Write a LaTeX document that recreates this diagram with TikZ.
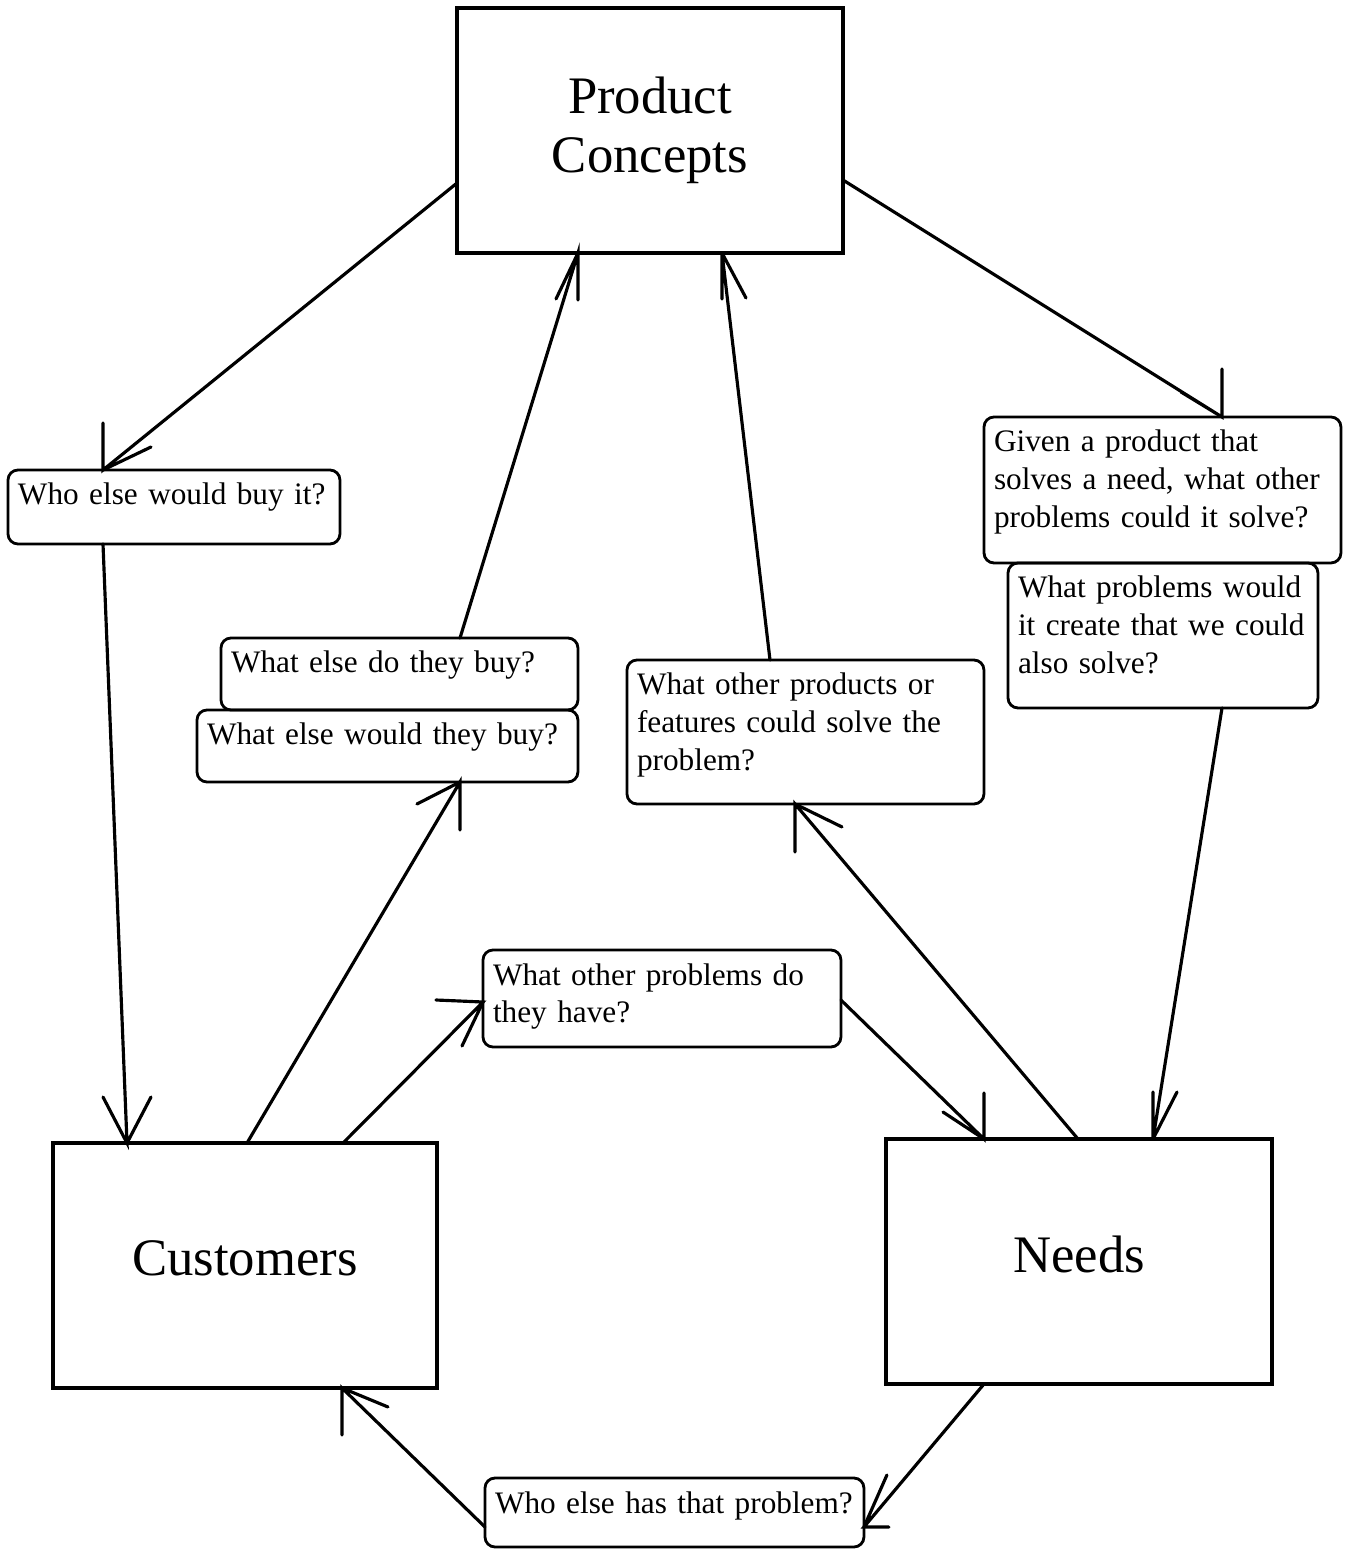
\documentclass[tikz,border=0pt]{standalone}
\usepackage{fontspec}
\setmainfont{Liberation Serif}[WordSpace=0.85]
\hyphenpenalty=10000
\exhyphenpenalty=10000
\begin{document}
\begin{tikzpicture}[x=0.02cm, y=-0.02cm,
  bigbox/.style={draw, line width=1.8pt, minimum width=7.72cm, minimum height=4.9cm,
    align=center, inner sep=0pt, outer sep=0pt, font=\fontsize{30}{33.5}\selectfont},
  % question box: fixed first baseline, total height = 0.70cm + #1
  qbox/.style={draw, line width=1.6pt, rounded corners=0.2cm, anchor=north west,
    align=left, inner xsep=0.2cm, inner ysep=0pt, outer sep=0pt,
    text height=0.70cm, text depth=#1,
    font=\fontsize{17.8}{21.5}\selectfont},
  conn/.style={line width=1.8pt, line cap=round}]
\useasboundingbox (0,0) rectangle (1346,1551);

% main boxes
\node[bigbox] (pc) at (650,130.5) {Product\\Concepts};
\node[bigbox, minimum width=7.68cm, text depth=0.28cm] (cust) at (245,1265.5) {Customers};
\node[bigbox, text depth=0.28cm] (needs) at (1079,1261.5) {Needs};

% question boxes
\node[qbox=0.78cm, text width=6.24cm] (who) at (8,470) {Who else would buy it?};
\node[qbox=0.74cm, text width=6.74cm] (doBuy) at (221,638) {What else do they buy?};
\node[qbox=0.74cm, text width=7.22cm] (wouldBuy) at (197,710) {What else would they buy?};
\node[qbox=2.18cm, text width=6.74cm] (otherProd) at (627,660)
  {What other products or\\features could solve the\\problem?};
\node[qbox=2.22cm, text width=6.74cm] (given) at (984,417)
  {Given a product that\\solves a need, what other\\problems could it solve?};
\node[qbox=2.20cm, text width=5.80cm] (create) at (1008,563)
  {What problems would\\it create that we could\\also solve?};
\node[qbox=1.24cm, text width=6.76cm] (otherProb) at (483,950)
  {What other problems do\\they have?};
\node[qbox=0.68cm, text width=7.18cm] (hasProb) at (485,1478)
  {Who else has that problem?};

% connector end points on the box borders
\coordinate (t1) at (who.north -| 103,0);
\coordinate (t2) at (cust.north -| 127,0);
\coordinate (t3) at (wouldBuy.south -| 460,0);
\coordinate (t4) at (pc.south -| 578,0);
\coordinate (t5) at (otherProd.south -| 795,0);
\coordinate (t6) at (pc.south -| 722,0);
\coordinate (t7) at (given.north -| 1222,0);
\coordinate (t8) at (needs.north -| 1153,0);
\coordinate (t9) at (otherProb.west |- 0,1002);
\coordinate (t10) at (needs.north -| 984,0);
\coordinate (t11) at (hasProb.east |- 0,1527);
\coordinate (t12) at (cust.south -| 342,0);

% connectors, each with its two open barbs at the tip
\draw[conn] (pc.west |- 0,183) -- (t1) -- ++(0,-47) (t1) -- ++(48,-23);
\draw[conn] (who.south -| 103,0) -- (t2) -- ++(-24,-46) (t2) -- ++(24,-46);
\draw[conn] (cust.north -| 247,0) -- (t3) -- ++(0,48) (t3) -- ++(-43,22);
\draw[conn] (doBuy.north -| 460,0) -- (t4) -- ++(0,47) (t4) -- ++(-22,46);
\draw[conn] (needs.north -| 1078,0) -- (t5) -- ++(0,48) (t5) -- ++(47,23);
\draw[conn] (otherProd.north -| 770,0) -- (t6) -- ++(0,46) (t6) -- ++(24,45);
\draw[conn] (pc.east |- 0,180) -- (t7) -- ++(0,-48) (t7) -- ++(-41,-25);
\draw[conn] (create.south -| 1222,0) -- (t8) -- ++(0,-47) (t8) -- ++(24,-47);
\draw[conn] (cust.north -| 343,0) -- (t9) -- ++(-47,-2) (t9) -- ++(-21,44);
\draw[conn] (otherProb.east |- 0,1000) -- (t10) -- ++(0,-46) (t10) -- ++(-41,-27);
\draw[conn] (needs.south -| 984,0) -- (t11) -- ++(25,0) (t11) -- ++(23,-52);
\draw[conn] (hasProb.west |- 0,1527) -- (t12) -- ++(0,47) (t12) -- ++(46,19);
\end{tikzpicture}
\end{document}
